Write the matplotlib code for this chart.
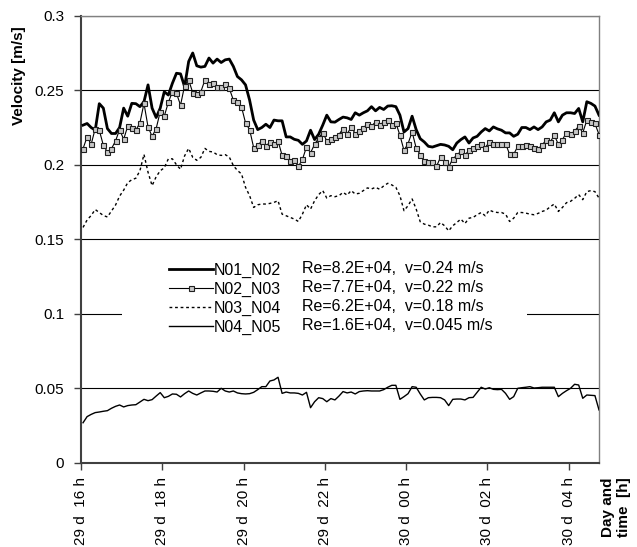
import matplotlib
matplotlib.use("Agg")
import matplotlib.pyplot as plt
import numpy as np
from matplotlib.patches import Rectangle

plt.rcParams["font.family"] = ["Liberation Sans", "DejaVu Sans"]

# velocities [m/s], one sample every 6 min starting 29 d 16:03
n01_n02 = [
    0.2266, 0.2277, 0.2250, 0.2232, 0.2410, 0.2380, 0.2243, 0.2210, 0.2210, 0.2250,
    0.2380, 0.2326, 0.2412, 0.2410, 0.2390, 0.2423, 0.2536, 0.2380, 0.2317, 0.2380,
    0.2490, 0.2468, 0.2547, 0.2614, 0.2610, 0.2524, 0.2693, 0.2750, 0.2664, 0.2655,
    0.2660, 0.2716, 0.2682, 0.2709, 0.2686, 0.2704, 0.2709, 0.2660, 0.2592, 0.2570,
    0.2536, 0.2434, 0.2300, 0.2236, 0.2250, 0.2272, 0.2250, 0.2300, 0.2295, 0.2295,
    0.2187, 0.2187, 0.2171, 0.2164, 0.2137, 0.2160, 0.2232, 0.2169, 0.2205, 0.2266,
    0.2333, 0.2288, 0.2286, 0.2304, 0.2320, 0.2315, 0.2304, 0.2349, 0.2333, 0.2349,
    0.2362, 0.2390, 0.2362, 0.2385, 0.2371, 0.2394, 0.2396, 0.2390, 0.2333, 0.2220,
    0.2243, 0.2326, 0.2236, 0.2175, 0.2153, 0.2124, 0.2119, 0.2128, 0.2137, 0.2133,
    0.2124, 0.2101, 0.2146, 0.2169, 0.2187, 0.2146, 0.2180, 0.2191, 0.2220, 0.2243,
    0.2227, 0.2254, 0.2241, 0.2232, 0.2214, 0.2214, 0.2191, 0.2205, 0.2250, 0.2250,
    0.2236, 0.2254, 0.2236, 0.2254, 0.2288, 0.2300, 0.2349, 0.2288, 0.2333, 0.2349,
    0.2349, 0.2344, 0.2378, 0.2288, 0.2423, 0.2412, 0.2394, 0.2333,
]
n02_n03 = [
    0.2108, 0.2187, 0.2137, 0.2243, 0.2232, 0.2131, 0.2086, 0.2108, 0.2160, 0.2236,
    0.2171, 0.2259, 0.2250, 0.2232, 0.2281, 0.2412, 0.2254, 0.2191, 0.2243, 0.2356,
    0.2326, 0.2419, 0.2490, 0.2479, 0.2400, 0.2531, 0.2569, 0.2484, 0.2475, 0.2490,
    0.2569, 0.2540, 0.2551, 0.2524, 0.2520, 0.2542, 0.2513, 0.2434, 0.2423, 0.2389,
    0.2281, 0.2236, 0.2115, 0.2131, 0.2160, 0.2124, 0.2153, 0.2137, 0.2160, 0.2063,
    0.2059, 0.2025, 0.2034, 0.1989, 0.2036, 0.2119, 0.2081, 0.2137, 0.2180, 0.2216,
    0.2160, 0.2175, 0.2187, 0.2203, 0.2243, 0.2205, 0.2254, 0.2209, 0.2227, 0.2250,
    0.2272, 0.2259, 0.2288, 0.2266, 0.2288, 0.2299, 0.2266, 0.2281, 0.2198, 0.2097,
    0.2142, 0.2220, 0.2113, 0.2068, 0.2025, 0.2018, 0.2018, 0.1989, 0.2052, 0.2018,
    0.1984, 0.2041, 0.2063, 0.2092, 0.2063, 0.2100, 0.2115, 0.2124, 0.2142, 0.2115,
    0.2153, 0.2137, 0.2137, 0.2137, 0.2142, 0.2070, 0.2070, 0.2124, 0.2124, 0.2131,
    0.2124, 0.2115, 0.2108, 0.2131, 0.2169, 0.2153, 0.2198, 0.2137, 0.2169, 0.2216,
    0.2205, 0.2227, 0.2259, 0.2214, 0.2299, 0.2288, 0.2277, 0.2203,
]
n03_n04 = [
    0.1580, 0.1630, 0.1660, 0.1700, 0.1680, 0.1660, 0.1650, 0.1690, 0.1730, 0.1790,
    0.1830, 0.1880, 0.1900, 0.1910, 0.1960, 0.2070, 0.1950, 0.1860, 0.1920, 0.1960,
    0.1980, 0.2040, 0.2040, 0.2000, 0.1970, 0.2060, 0.2110, 0.2050, 0.2030, 0.2050,
    0.2110, 0.2090, 0.2086, 0.2068, 0.2063, 0.2068, 0.2052, 0.1995, 0.1962, 0.1939,
    0.1849, 0.1793, 0.1714, 0.1732, 0.1737, 0.1737, 0.1741, 0.1748, 0.1759, 0.1669,
    0.1658, 0.1647, 0.1636, 0.1620, 0.1669, 0.1732, 0.1703, 0.1759, 0.1800, 0.1827,
    0.1777, 0.1793, 0.1786, 0.1793, 0.1815, 0.1797, 0.1827, 0.1804, 0.1809, 0.1827,
    0.1845, 0.1838, 0.1849, 0.1836, 0.1858, 0.1876, 0.1865, 0.1849, 0.1793, 0.1692,
    0.1726, 0.1771, 0.1703, 0.1618, 0.1602, 0.1595, 0.1584, 0.1584, 0.1613, 0.1591,
    0.1557, 0.1591, 0.1613, 0.1636, 0.1606, 0.1642, 0.1647, 0.1665, 0.1680, 0.1658,
    0.1696, 0.1685, 0.1680, 0.1680, 0.1669, 0.1620, 0.1642, 0.1680, 0.1680, 0.1676,
    0.1669, 0.1665, 0.1674, 0.1687, 0.1696, 0.1719, 0.1737, 0.1687, 0.1714, 0.1746,
    0.1755, 0.1775, 0.1800, 0.1766, 0.1820, 0.1827, 0.1820, 0.1777,
]
n04_n05 = [
    0.0270, 0.0311, 0.0326, 0.0338, 0.0342, 0.0347, 0.0351, 0.0367, 0.0380, 0.0389,
    0.0376, 0.0385, 0.0389, 0.0391, 0.0409, 0.0427, 0.0418, 0.0425, 0.0449, 0.0472,
    0.0438, 0.0447, 0.0463, 0.0461, 0.0443, 0.0465, 0.0483, 0.0467, 0.0456, 0.0470,
    0.0483, 0.0483, 0.0481, 0.0476, 0.0501, 0.0483, 0.0476, 0.0483, 0.0470, 0.0465,
    0.0463, 0.0465, 0.0474, 0.0492, 0.0512, 0.0512, 0.0550, 0.0557, 0.0575, 0.0467,
    0.0476, 0.0470, 0.0470, 0.0467, 0.0456, 0.0474, 0.0371, 0.0411, 0.0438, 0.0432,
    0.0411, 0.0432, 0.0423, 0.0449, 0.0479, 0.0470, 0.0476, 0.0463, 0.0479, 0.0483,
    0.0485, 0.0483, 0.0483, 0.0483, 0.0492, 0.0508, 0.0521, 0.0521, 0.0427, 0.0445,
    0.0465, 0.0512, 0.0508, 0.0463, 0.0423, 0.0438, 0.0440, 0.0440, 0.0438, 0.0423,
    0.0385, 0.0427, 0.0429, 0.0429, 0.0423, 0.0438, 0.0440, 0.0474, 0.0508, 0.0496,
    0.0505, 0.0494, 0.0492, 0.0494, 0.0467, 0.0427, 0.0445, 0.0501, 0.0505, 0.0508,
    0.0512, 0.0503, 0.0505, 0.0508, 0.0508, 0.0508, 0.0508, 0.0445, 0.0467, 0.0485,
    0.0501, 0.0528, 0.0523, 0.0434, 0.0456, 0.0454, 0.0452, 0.0356,
]

series_names = ["N01_N02", "N02_N03", "N03_N04", "N04_N05"]
re_labels = [
    "Re=8.2E+04,  v=0.24 m/s",
    "Re=7.7E+04,  v=0.22 m/s",
    "Re=6.2E+04,  v=0.18 m/s",
    "Re=1.6E+04,  v=0.045 m/s",
]
x_ticks = [0, 2, 4, 6, 8, 10, 12]
x_tick_labels = ["29 d  16 h", "29 d  18 h", "29 d  20 h", "29 d  22 h",
                 "30 d  00 h", "30 d  02 h", "30 d  04 h"]
y_ticks = [0, 0.05, 0.1, 0.15, 0.2, 0.25, 0.3]
y_tick_labels = ["0", "0.05", "0.1", "0.15", "0.2", "0.25", "0.3"]

# hours after 29 d 16:00
hours = 0.05 + 0.1 * np.arange(len(n01_n02))

fig = plt.figure(figsize=(6.37, 5.47), dpi=100)
ax = fig.add_axes([81 / 637, 84 / 547, 518 / 637, 447.3 / 547])

ax.plot(hours, n01_n02, color="black", lw=2.0, label=series_names[0], zorder=3)
ax.plot(hours, n02_n03, color="black", lw=0.8, marker="s", ms=3.6,
        mfc="#c8c8c8", mec="#202020", mew=0.8, label=series_names[1], zorder=3)
ax.plot(hours, n03_n04, color="black", lw=1.0, ls=(0, (2, 2)),
        label=series_names[2], zorder=3)
ax.plot(hours, n04_n05, color="black", lw=1.0, label=series_names[3], zorder=3)

ax.set_xlim(0, 12.75)
ax.set_ylim(0, 0.3)
ax.set_yticks(y_ticks)
ax.set_yticklabels(y_tick_labels, fontsize=11)
ax.set_xticks(x_ticks)
ax.set_xticklabels(x_tick_labels, rotation=90, fontsize=11, va="top")

ax.grid(axis="y", color="black", lw=0.8)
ax.set_axisbelow(True)
ax.tick_params(axis="both", direction="out", length=5, width=1, color="#404040")
ax.tick_params(axis="x", pad=5)
ax.tick_params(axis="y", pad=7)

for side in ["left", "bottom"]:
    ax.spines[side].set_color("#404040")
    ax.spines[side].set_linewidth(1.5)
for side in ["top", "right"]:
    ax.spines[side].set_color("#808080")
    ax.spines[side].set_linewidth(1.0)

# white box behind the legend hides the 0.1 grid line
ax.add_patch(Rectangle((0.079, 0.27), 0.782, 0.195, transform=ax.transAxes,
                       facecolor="white", edgecolor="none", zorder=1.5))

ax.legend(loc="upper left", bbox_to_anchor=(0.17, 0.448), frameon=False,
          fontsize=11.5, handlelength=2.75, handletextpad=0.05,
          labelspacing=0.24, borderpad=0, borderaxespad=0, numpoints=1)

for i, txt in enumerate(re_labels):
    ax.text(0.427, 0.435 - i * 0.0428, txt, transform=ax.transAxes,
            va="center", ha="left", fontsize=11.5, zorder=4)

fig.text(19 / 637, 1 - 76 / 547, "Velocity [m/s]", rotation=90,
         ha="center", va="center", fontsize=11, fontweight="bold")
fig.text(601 / 637, 10 / 547, "Day and\ntime  [h]", rotation=90,
         ha="left", va="bottom", fontsize=11, fontweight="bold",
         multialignment="left")

fig.savefig("out.png", dpi=100)
